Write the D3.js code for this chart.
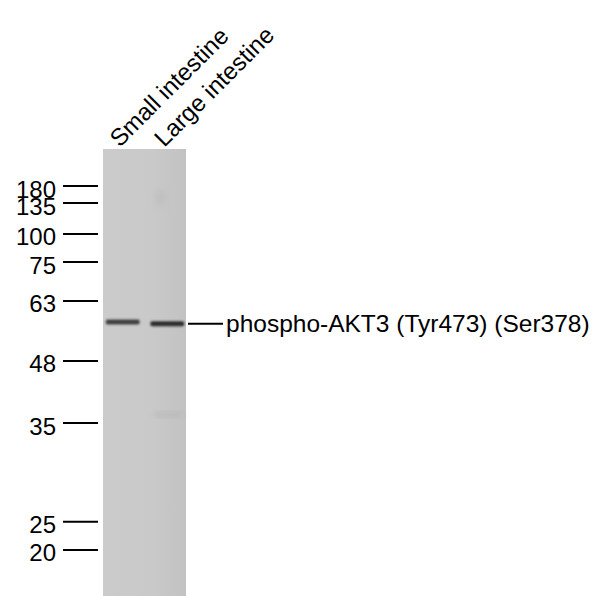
<!DOCTYPE html>
<html>
<head>
<meta charset="utf-8">
<script src="https://cdn.jsdelivr.net/npm/d3@7"></script>
<style>
  html, body { margin: 0; padding: 0; background: #fff; }
  text { font-family: "Liberation Sans", Arial, sans-serif; fill: #000; }
</style>
</head>
<body>
<svg width="614" height="596"></svg>
<script>
// marker ladder (kDa) and where each one ran on the membrane (relative mobility)
const markers = [180, 135, 100, 75, 63, 48, 35, 25, 20];
const markerRf = [0.083, 0.121, 0.190, 0.253, 0.340, 0.474, 0.613, 0.834, 0.897];

const lanes = ["Small intestine", "Large intestine"];
const bandRf = [0.387, 0.391];
const bandStrength = [0.8, 0.9];
const targetLabel = "phospho-AKT3 (Tyr473) (Ser378)";

const svg = d3.select('svg');

const y = d3.scaleLinear().domain([0, 1]).range([149, 596]);
const x = d3.scaleBand().domain(lanes).range([104, 186])
    .paddingInner(0.24).paddingOuter(0.04);

const defs = svg.append('defs');
const grad = defs.append('linearGradient').attr('id', 'mem');
grad.append('stop').attr('offset', '0%').attr('stop-color', '#cbcbcb');
grad.append('stop').attr('offset', '60%').attr('stop-color', '#c9c9c9');
grad.append('stop').attr('offset', '100%').attr('stop-color', '#c2c2c2');
defs.append('filter').attr('id', 'blur')
    .attr('x', '-20%').attr('y', '-200%').attr('width', '140%').attr('height', '500%')
    .append('feGaussianBlur').attr('stdDeviation', 1.1);
defs.append('filter').attr('id', 'soft')
    .attr('x', '-50%').attr('y', '-50%').attr('width', '200%').attr('height', '200%')
    .append('feGaussianBlur').attr('stdDeviation', 3);

// membrane
svg.append('rect')
    .attr('x', x.range()[0] - 1).attr('y', y(0))
    .attr('width', x.range()[1] - x.range()[0] + 1)
    .attr('height', y(1) - y(0))
    .style('fill', 'url(#mem)');

// faint background smudges in lane 2
svg.append('ellipse')
    .attr('cx', x(lanes[1]) + x.bandwidth() * 0.3).attr('cy', y(0.11))
    .attr('rx', 5).attr('ry', 8)
    .style('fill', '#b8b8b8').style('opacity', 0.5)
    .attr('filter', 'url(#soft)');
svg.append('rect')
    .attr('x', x(lanes[1]) + 4).attr('y', y(0.59))
    .attr('width', x.bandwidth() - 6).attr('height', 4)
    .style('fill', '#a8a8a8').style('opacity', 0.5)
    .attr('filter', 'url(#soft)');

// bands
svg.selectAll('rect.band')
    .data(lanes)
    .enter().append('rect')
    .attr('class', 'band')
    .attr('x', function(d){ return x(d); })
    .attr('y', function(d, i){ return y(bandRf[i]) - 2.5; })
    .attr('width', x.bandwidth())
    .attr('height', 5)
    .attr('rx', 2)
    .style('fill', '#1e1e1e')
    .style('opacity', function(d, i){ return bandStrength[i]; })
    .attr('filter', 'url(#blur)');

// marker ticks + labels
const mk = svg.selectAll('g.mk')
    .data(markers)
    .enter().append('g')
    .attr('class', 'mk')
    .attr('transform', function(d, i){ return 'translate(0,' + y(markerRf[i]) + ')'; });
mk.append('line')
    .attr('x1', 63).attr('x2', 98)
    .style('stroke', '#000').style('stroke-width', 2);
mk.append('text')
    .attr('x', 56).attr('y', 11.5)
    .attr('text-anchor', 'end')
    .style('font-size', '24px')
    .text(function(d){ return d; });

// lane labels
svg.selectAll('text.lane')
    .data(lanes)
    .enter().append('text')
    .attr('class', 'lane')
    .attr('transform', function(d){
        return 'translate(' + (x(d) + x.bandwidth() / 2 - 3) + ',' + (y(0) - 1) + ') rotate(-45)';
    })
    .style('font-size', '24px')
    .text(function(d){ return d; });

// target pointer + label
const ty = y(bandRf[1]);
svg.append('line')
    .attr('x1', 188).attr('x2', 223)
    .attr('y1', ty).attr('y2', ty)
    .style('stroke', '#000').style('stroke-width', 2);
svg.append('text')
    .attr('x', 226).attr('y', ty + 8.5)
    .style('font-size', '24.5px')
    .text(targetLabel);
</script>
</body>
</html>
